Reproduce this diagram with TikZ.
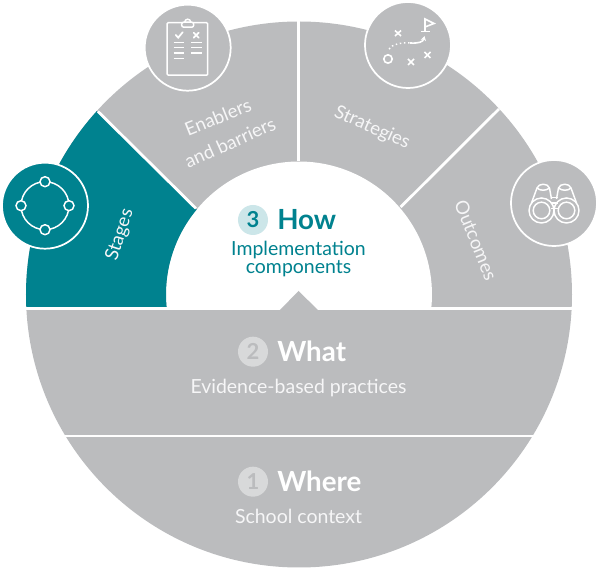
\documentclass[tikz,border=0pt]{standalone}
\usepackage{fontspec}
\setmainfont{Lato}
\usepackage{tikz}
\usetikzlibrary{positioning}
\usetikzlibrary{arrows.meta,calc}
\definecolor{wheelgray}{HTML}{BBBCBE}
\definecolor{wheelteal}{HTML}{00828F}
\definecolor{softteal}{HTML}{CCE6E9}
\definecolor{softgray}{HTML}{D8D9DA}
\definecolor{soft}{HTML}{F6F6F7}

\begin{document}
\begin{tikzpicture}[
    x=0.75pt, y=0.75pt,
    gap/.style={draw=white, line width=2.1pt},
    badge/.style={circle, minimum size=22.5pt, inner sep=0pt, font=\fontsize{16.5}{16.5}\selectfont\bfseries},
    head/.style={font=\fontsize{20.8}{20.8}\selectfont\bfseries, anchor=west, inner sep=0pt},
    sub/.style={font=\fontsize{14.6}{14.6}\selectfont, text=soft, inner sep=0pt},
    seglabel/.style={font=\fontsize{14}{14}\selectfont, text=soft, inner sep=0pt},
    iconcircle/.style={circle, draw=white, line width=1.3pt, minimum size=64.5pt, inner sep=0pt},
    ink/.style={draw=white, line width=1.1pt}
    ]
\useasboundingbox (-299,-275.5) rectangle (301,294.5);

% disc and hole
\fill[wheelgray] (0,0) circle (273);
\fill[white] (185.4:133) arc (185.4:-5.4:133) -- cycle;
\fill[wheelteal] (182.6:273) arc (182.6:137.8:273) -- (140.3:133) arc (140.3:185.4:133) -- cycle;

% gaps
\coordinate (bandL) at (-273,-14);
\coordinate (bandR) at (273,-14);
\coordinate (lowL) at (-233.5,-141.5);
\coordinate (lowR) at (233.5,-141.5);
\coordinate (topO) at (-0.5,273);
\coordinate (topI) at (-0.5,133);
\coordinate (leftO) at (-201,183);
\coordinate (leftI) at (-103,86);
\coordinate (rightO) at (200,185.5);
\coordinate (rightI) at (101.7,87.5);
\draw[gap] (bandL) -- (bandR);
\draw[gap, line width=1.6pt] (lowL) -- (lowR);
\draw[gap] (topO) -- (topI);
\draw[gap] (leftO) -- (leftI);
\draw[gap] (rightO) -- (rightI);
\fill[wheelgray] (-19,-15.5) -- (-0.5,3.5) -- (19,-15.5) -- cycle;

% centre texts
\node[badge, fill=softteal, text=wheelteal] (three) at (-46,74.5) {3};
\node[head, text=wheelteal] (how) at (-22,74.5) {How};
\node[sub, text=wheelteal] (impl) at (-0.5,44.5) {Implementation};
\node[sub, text=wheelteal] (comp) at (-0.5,25.5) {components};
\node[badge, fill=softgray, text=wheelgray] (two) at (-46,-57.2) {2};
\node[head, text=white] (what) at (-22,-57.2) {What};
\node[sub] (evid) at (-0.5,-93.5) {Evidence-based practices};
\node[badge, fill=softgray, text=wheelgray] (one) at (-46,-187.2) {1};
\node[head, text=white] (where) at (-22,-187.2) {Where};
\node[sub] (school) at (-0.5,-221.5) {School context};

% segment labels
\node[seglabel, rotate=72] (stages) at (-179,59.5) {Stages};
\node[seglabel, rotate=22] (enablers) at (-81,177.5) {Enablers};
\node[seglabel, rotate=24] (barriers) at (-69,152) {and barriers};
\node[seglabel, rotate=-24] (strategies) at (73,166.5) {Strategies};
\node[seglabel, rotate=-68] (outcomes) at (177,54.5) {Outcomes};

% icon discs
\node[iconcircle, fill=wheelteal] (stagesicon) at (-254,88.8) {};
\node[iconcircle, fill=wheelgray] (clipicon) at (-111.3,246.8) {};
\node[iconcircle, fill=wheelgray] (planicon) at (109,249.5) {};
\node[iconcircle, fill=wheelgray] (binoicon) at (255,91.5) {};

% stages icon
\begin{scope}[shift={(stagesicon.center)}]
    \draw[ink] (0,0) circle (24);
    \foreach \a in {0,90,180,270}
        \draw[ink, fill=wheelteal] (\a:24) circle (5);
\end{scope}

% clipboard icon
\begin{scope}[shift={(clipicon.center)}]
    \draw[ink, rounded corners=0.8pt] (-20.5,25) rectangle (20,-27.5);
    \draw[ink, fill=wheelgray, rounded corners=1.5pt] (-6,25.5) rectangle (6,20.5);
    \draw[ink] (-3,25.5) arc (180:0:3);
    \draw[ink, line cap=round, line width=1.3pt] (-12,12.8) -- (-9.5,10) -- (-5,15.5);
    \draw[ink, line cap=round, line width=1.3pt] (6,15) -- (11,10) (6,10) -- (11,15);
    \foreach \y in {5,0,-5.5}
        \draw[ink] (-14,\y) -- (-3.5,\y) (3.7,\y) -- (14.5,\y);
    \draw[ink] (-14,-11) -- (-3.5,-11);
\end{scope}

% strategy icon
\begin{scope}[shift={(planicon.center)}]
    \draw[ink, line width=1.2pt] (-13,14.5) -- (-7,9) (-13,9) -- (-7,14.5);
    \draw[ink, line width=1.2pt] (16.5,-13) -- (22.5,-7) (16.5,-7) -- (22.5,-13);
    \draw[ink, line width=1.2pt] (0,-20) -- (6,-14) (0,-14) -- (6,-20);
    \draw[ink, line width=1.2pt] (-20,-14) circle (4.2);
    \draw[ink, line width=1.2pt] (17,13.5) -- (17,26) -- (26,21.5) -- (17,18);
    \draw[ink, line width=1.2pt] (13,13.5) -- (21.5,13.5);
    \draw[ink, dotted, line width=1.1pt] (-19,-4) .. controls (-15,1) and (-8,2.5) .. (2,2);
    \draw[ink, line width=1.2pt, -{Stealth[length=3.5pt,width=4pt]}] (2,2) .. controls (11,1.5) and (15,3) .. (16.5,9);
\end{scope}

% binoculars icon
\begin{scope}[shift={(binoicon.center)}]
    \foreach \s in {-1,1} {
        \draw[ink] (\s*12.5,-7.5) circle (12.5);
        \draw[ink] (\s*12.5,-7.5) circle (8.3);
        \draw[ink, line join=round] (\s*22.5,0) -- (\s*17,15) .. controls (\s*15.5,20) and (\s*6,20) .. (\s*4.5,15) -- (\s*2.5,4);
        \draw[ink] (\s*17,15) .. controls (\s*14,12) and (\s*8,12) .. (\s*4.5,15);
    }
    \draw[ink] (-3.5,5.5) -- (3.5,5.5) (-3.5,-5.5) -- (3.5,-5.5) (-3.5,0) -- (3.5,0);
\end{scope}
\end{tikzpicture}
\end{document}
